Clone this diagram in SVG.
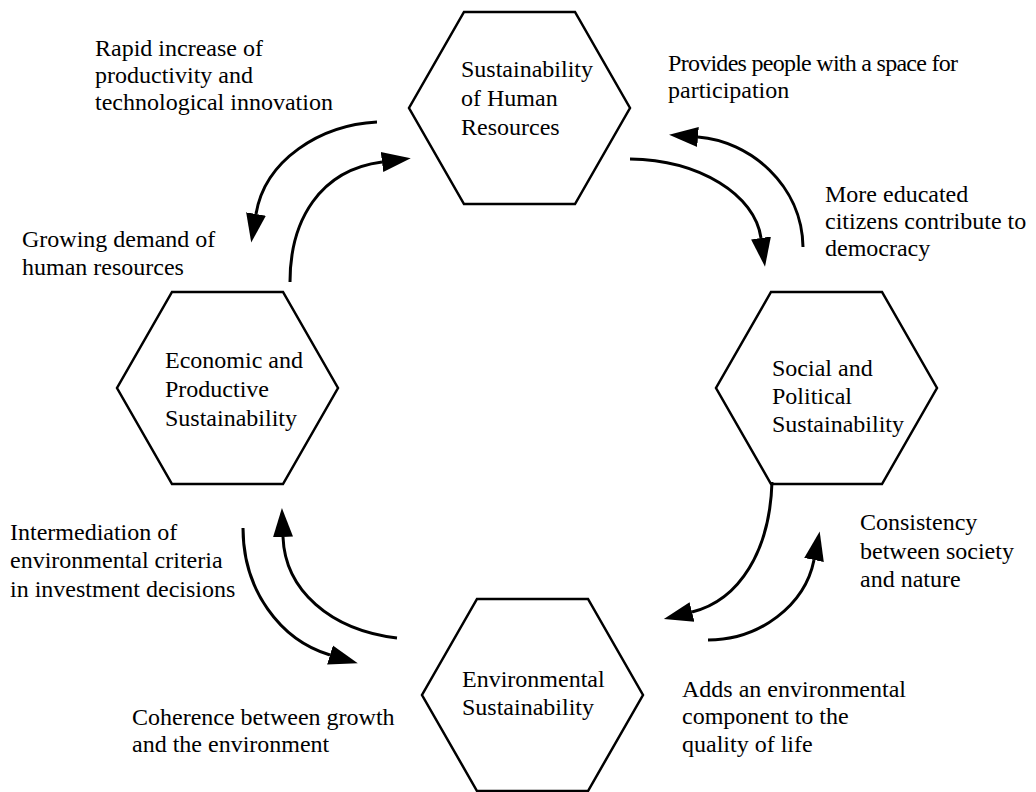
<svg xmlns="http://www.w3.org/2000/svg" width="1036" height="792" viewBox="0 0 1036 792">
<style>
.hex{fill:none;stroke:#000;stroke-width:2.5;stroke-linejoin:miter}
.t{font-family:"Liberation Serif","Times New Roman",serif;font-size:24px;fill:#000}
.arc{fill:none;stroke:#000;stroke-width:3}
</style>
<defs>
<marker id="ah" markerUnits="userSpaceOnUse" markerWidth="34" markerHeight="26" viewBox="0 -13 34 26" refX="0" refY="0" orient="auto">
<path d="M0,-10 L29,0 L0,10 Z" fill="#000"/>
</marker>
</defs>
<rect width="1036" height="792" fill="#fff"/>
<g id="node-human">
<polygon class="hex" points="464,12 575,12 630,108 575,204 464,204 409,108"/>
<text class="t" x="461" y="77">Sustainability</text>
<text class="t" x="461" y="106">of Human</text>
<text class="t" x="461" y="135">Resources</text>
</g>
<g id="node-economic">
<polygon class="hex" points="172,292 283,292 338,388 283,484 172,484 117,388"/>
<text class="t" x="165" y="368">Economic and</text>
<text class="t" x="165" y="397">Productive</text>
<text class="t" x="165" y="426">Sustainability</text>
</g>
<g id="node-social">
<polygon class="hex" points="771,292 882,292 937,388 882,484 771,484 716,388"/>
<text class="t" x="772" y="376">Social and</text>
<text class="t" x="772" y="404">Political</text>
<text class="t" x="772" y="432">Sustainability</text>
</g>
<g id="node-environmental">
<polygon class="hex" points="477,599 588,599 643,695 588,791 477,791 422,695"/>
<text class="t" x="462" y="687">Environmental</text>
<text class="t" x="462" y="715">Sustainability</text>
</g>
<g id="labels">
<text class="t" x="95" y="56">Rapid increase of</text>
<text class="t" x="95" y="83">productivity and</text>
<text class="t" x="95" y="110">technological innovation</text>
<text class="t" x="668" y="71" textLength="290" lengthAdjust="spacing">Provides people with a space for</text>
<text class="t" x="668" y="98">participation</text>
<text class="t" x="825" y="202">More educated</text>
<text class="t" x="825" y="229">citizens contribute to</text>
<text class="t" x="825" y="256">democracy</text>
<text class="t" x="22" y="247">Growing demand of</text>
<text class="t" x="22" y="275">human resources</text>
<text class="t" x="10" y="540">Intermediation of</text>
<text class="t" x="10" y="568">environmental criteria</text>
<text class="t" x="10" y="597">in investment decisions</text>
<text class="t" x="860" y="530">Consistency</text>
<text class="t" x="860" y="559">between society</text>
<text class="t" x="860" y="587">and nature</text>
<text class="t" x="132" y="725">Coherence between growth</text>
<text class="t" x="132" y="752">and the environment</text>
<text class="t" x="682" y="697">Adds an environmental</text>
<text class="t" x="682" y="724">component to the</text>
<text class="t" x="682" y="752">quality of life</text>
</g>
<g id="connectors">
<path class="arc" marker-end="url(#ah)" d="M377,122 C320,125 265,160 256,214"/>
<path class="arc" marker-end="url(#ah)" d="M290,282 C290,220 320,170 382,162"/>
<path class="arc" marker-end="url(#ah)" d="M630,159 C700,160 755,195 761,238"/>
<path class="arc" marker-end="url(#ah)" d="M803,247 C802,185 750,141 698,137"/>
<path class="arc" marker-end="url(#ah)" d="M772,482 C770,550 740,600 692,612"/>
<path class="arc" marker-end="url(#ah)" d="M708,640 C760,640 805,605 814,560"/>
<path class="arc" marker-end="url(#ah)" d="M243,528 C243,590 280,640 330,655"/>
<path class="arc" marker-end="url(#ah)" d="M397,638 C330,630 285,590 283,537"/>
</g>
</svg>
